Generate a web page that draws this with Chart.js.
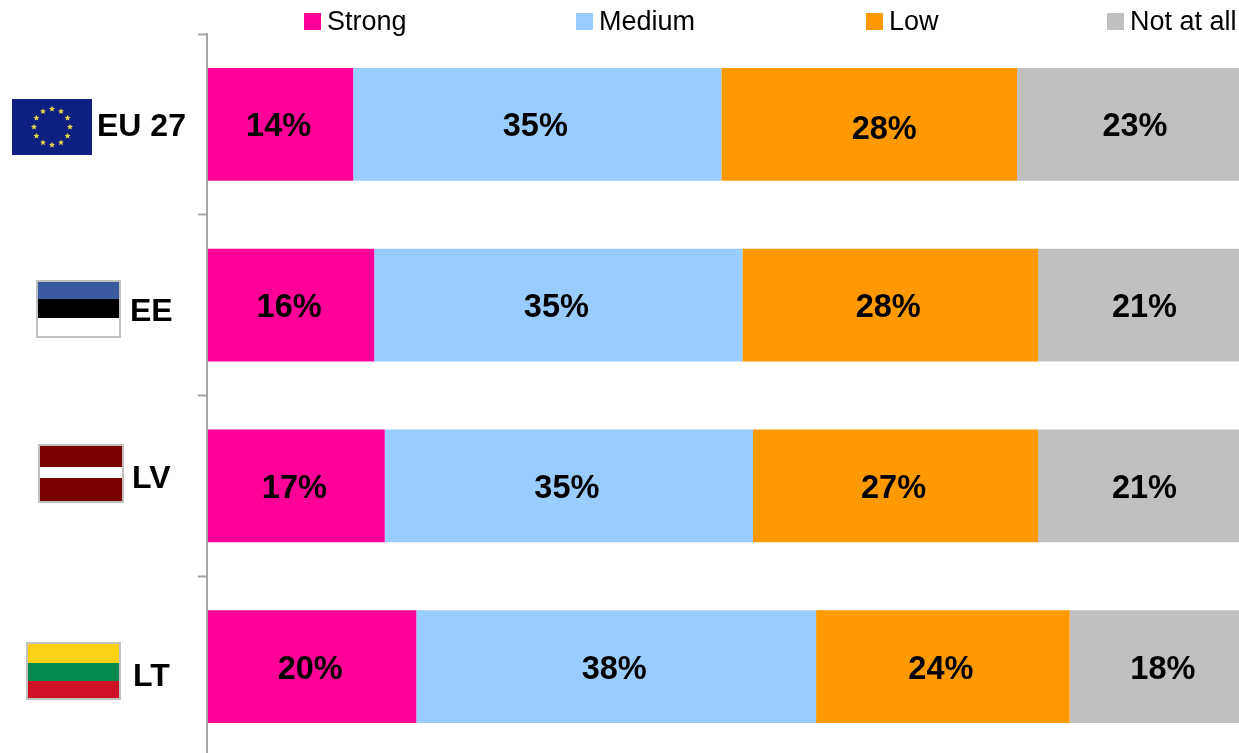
<!DOCTYPE html>
<html lang="en">
<head>
  <meta charset="utf-8">
  <title>Strong / Medium / Low / Not at all</title>
  <script src="https://cdn.jsdelivr.net/npm/chart.js"></script>
  <style>
    html, body { margin: 0; padding: 0; background: #fff; overflow: hidden; width: 1239px; height: 753px; }
    canvas { display: block; }
  </style>
</head>
<body>
<canvas id="chart" width="1239" height="757"></canvas>

<script>
  const categories = ['EU 27', 'EE', 'LV', 'LT'];
  const seriesNames = ['Strong', 'Medium', 'Low', 'Not at all'];
  const strong = [13.8, 15.8, 16.8, 19.8];
  const medium = [35.0, 35.0, 35.0, 38.0];
  const low = [28.1, 28.1, 27.1, 24.1];
  const notAtAll = [22.8, 20.6, 20.6, 18.1];
  const axisMax = 98;

  const colors = ['#ff0099', '#99ccff', '#ff9900', '#c0c0c0'];
  const font = 'Liberation Sans';

  // x, y of each row label (left edge, middle)
  const rowLabelPos = [[97, 127], [130, 312], [132, 479], [133, 677]];
  // legend box left edges, column widths in the original are uneven
  const legendX = [304, 576, 866, 1107];

  function rect(ctx, color, x, y, w, h) {
    ctx.fillStyle = color;
    ctx.fillRect(x, y, w, h);
  }

  function star(ctx, cx, cy, r) {
    ctx.beginPath();
    for (let i = 0; i < 10; i++) {
      const a = -Math.PI / 2 + i * Math.PI / 5;
      const d = i % 2 ? r * 0.45 : r;
      ctx.lineTo(cx + d * Math.cos(a), cy + d * Math.sin(a));
    }
    ctx.closePath();
    ctx.fill();
  }

  function drawFlags(ctx) {
    // EU
    rect(ctx, '#0f1f80', 12, 99, 80, 56);
    ctx.fillStyle = '#e8d44d';
    for (let i = 0; i < 12; i++) {
      const a = i * Math.PI / 6;
      star(ctx, 52 + 18 * Math.cos(a), 127 + 18 * Math.sin(a), 3.2);
    }
    // EE
    rect(ctx, '#c0c0c0', 36, 280, 85, 58);
    rect(ctx, '#3a5ba0', 38, 282, 81, 17);
    rect(ctx, '#000000', 38, 299, 81, 19);
    rect(ctx, '#ffffff', 38, 318, 81, 18);
    // LV
    rect(ctx, '#c0c0c0', 38, 444, 86, 59);
    rect(ctx, '#7a0000', 40, 446, 82, 55);
    rect(ctx, '#ffffff', 40, 467, 82, 11);
    // LT
    rect(ctx, '#c0c0c0', 26, 642, 95, 58);
    rect(ctx, '#fdd116', 28, 644, 91, 19);
    rect(ctx, '#078a50', 28, 663, 91, 18);
    rect(ctx, '#cf1126', 28, 681, 91, 17);
  }

  const extras = {
    id: 'extras',
    afterDraw(chart) {
      const ctx = chart.ctx;
      ctx.save();
      drawFlags(ctx);

      ctx.textBaseline = 'middle';
      ctx.textAlign = 'left';

      // row labels
      ctx.fillStyle = '#000';
      ctx.font = 'bold 32px "' + font + '"';
      categories.forEach((c, i) => ctx.fillText(c, rowLabelPos[i][0], rowLabelPos[i][1]));

      // legend
      ctx.font = '27px "' + font + '"';
      seriesNames.forEach((name, i) => {
        rect(ctx, colors[i], legendX[i], 13, 17, 17);
        ctx.fillStyle = '#000';
        ctx.fillText(name, legendX[i] + 23, 23);
      });

      // value labels, centred on the unclipped segment
      ctx.textAlign = 'center';
      ctx.font = 'bold 32.5px "' + font + '"';
      ctx.fillStyle = '#000';
      chart.data.datasets.forEach((ds, d) => {
        chart.getDatasetMeta(d).data.forEach((bar, i) => {
          let dx = -2, dy = 3;
          if (d === 2 && i === 0) { dx = 15; dy = 6; } // this one sits off centre in the original
          const p = bar.getProps(['x', 'y', 'base']);
          ctx.fillText(Math.round(ds.data[i]) + '%', (p.x + p.base) / 2 + dx, p.y + dy);
        });
      });
      ctx.restore();
    }
  };

  new Chart(document.getElementById('chart').getContext('2d'), {
    type: 'bar',
    data: {
      labels: categories,
      datasets: [strong, medium, low, notAtAll].map((values, i) => ({
        label: seriesNames[i],
        data: values,
        backgroundColor: colors[i],
        borderWidth: 0,
        categoryPercentage: 1,
        barPercentage: 0.625
      }))
    },
    options: {
      indexAxis: 'y',
      responsive: false,
      animation: false,
      layout: { padding: { left: 197, top: 34, right: 0, bottom: 0 } },
      scales: {
        x: { stacked: true, display: false, min: -0.095, max: axisMax },
        y: {
          stacked: true,
          afterFit: s => { s.width = 10; },
          border: { display: true, color: '#a6a6a6', width: 2 },
          grid: { display: true, drawOnChartArea: false, drawTicks: true, tickLength: 9, color: '#a6a6a6', tickWidth: 2 },
          ticks: { display: false }
        }
      },
      plugins: {
        legend: { display: false },
        tooltip: { enabled: false }
      }
    },
    plugins: [extras]
  });
</script>
</body>
</html>
